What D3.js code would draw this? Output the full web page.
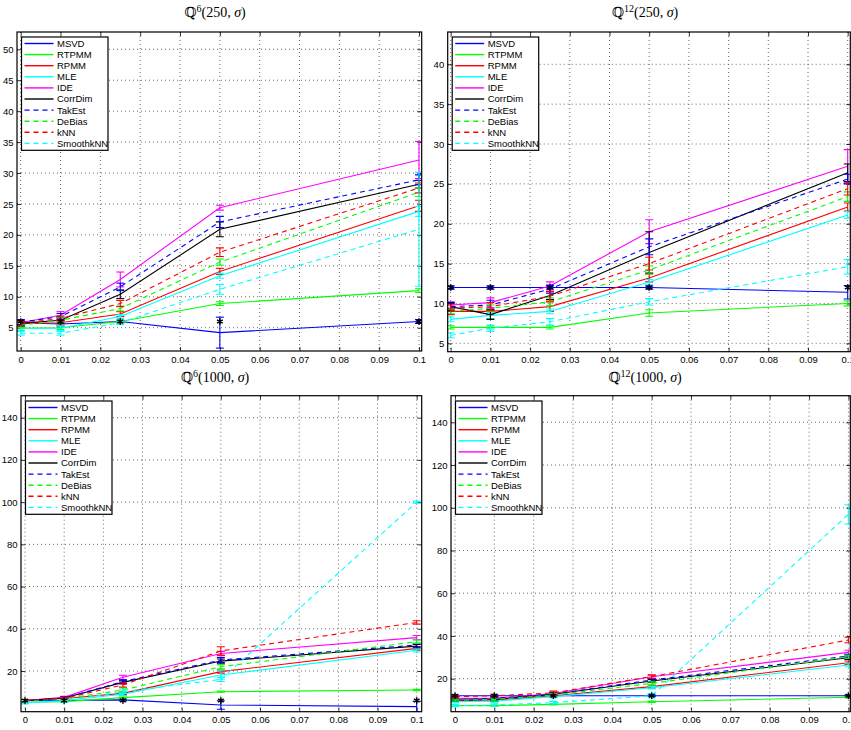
<!DOCTYPE html>
<html>
<head>
<meta charset="utf-8">
<script src="https://cdn.jsdelivr.net/npm/d3@7"></script>
<style>
  html, body { margin: 0; padding: 0; background: #fff; }
  svg { display: block; }
</style>
</head>
<body>
<svg id="chart" width="851" height="730"></svg>
<script>
// ---------------- DATA ----------------
const sigmas = [0, 0.01, 0.025, 0.05, 0.1];
const xTickValues = [0, 0.01, 0.02, 0.03, 0.04, 0.05, 0.06, 0.07, 0.08, 0.09, 0.1];
const xTickLabels = ["0", "0.01", "0.02", "0.03", "0.04", "0.05", "0.06", "0.07", "0.08", "0.09", "0.1"];
const methods = ["MSVD", "RTPMM", "RPMM", "MLE", "IDE", "CorrDim", "TakEst", "DeBias", "kNN", "SmoothkNN"];

// Q^6(250, sigma): mean estimates per method (rows follow `methods`)
const q6n250 = [
  [5.8, 5.6, 6.0, 4.2, 6.0],
  [4.9, 5.0, 6.0, 8.9, 11.0],
  [5.7, 5.8, 7.2, 14.1, 24.7],
  [4.9, 4.9, 6.8, 13.4, 23.8],
  [5.8, 7.0, 12.8, 24.4, 32.1],
  [5.7, 6.2, 10.4, 20.9, 28.2],
  [5.9, 6.8, 11.6, 22.1, 28.9],
  [5.4, 6.2, 8.1, 15.6, 26.9],
  [5.7, 6.5, 8.9, 17.2, 27.6],
  [4.1, 4.1, 5.8, 11.2, 20.9]
];
const q6n250Err = [
  [0.5, 0.5, 0.2, 2.5, 0.3],
  [0.3, 0.3, 0.2, 0.3, 0.3],
  [0.4, 0.4, 0.4, 0.5, 0.9],
  [0.4, 0.4, 0.3, 0.4, 0.8],
  [0.5, 0.6, 1.2, 0.4, 3.0],
  [0.4, 0.5, 0.7, 1.2, 0.6],
  [0.4, 0.5, 0.6, 0.9, 0.8],
  [0.4, 0.4, 0.4, 0.5, 0.7],
  [0.4, 0.4, 0.5, 0.7, 0.8],
  [0.3, 0.3, 0.3, 0.8, 9.2]
];

// Q^12(250, sigma)
const q12n250 = [
  [12.0, 12.0, 12.0, 12.0, 11.4],
  [7.0, 7.0, 7.0, 8.8, 10.0],
  [9.0, 9.0, 9.6, 13.2, 22.1],
  [8.0, 8.5, 9.0, 12.7, 21.1],
  [9.8, 10.1, 12.2, 19.0, 27.2],
  [9.6, 8.6, 11.0, 16.4, 26.4],
  [9.6, 9.8, 11.8, 17.1, 25.6],
  [9.0, 9.4, 10.2, 14.2, 23.4],
  [9.4, 9.6, 10.9, 15.0, 24.4],
  [6.0, 6.9, 7.7, 10.2, 14.6]
];
const q12n250Err = [
  [0.2, 0.2, 0.2, 0.2, 0.85],
  [0.2, 0.2, 0.2, 0.4, 0.3],
  [0.4, 0.4, 0.6, 0.5, 0.5],
  [0.3, 0.4, 0.3, 0.3, 0.4],
  [0.4, 0.6, 0.5, 1.5, 2.1],
  [0.5, 0.6, 0.5, 2.6, 1.1],
  [0.4, 0.6, 0.5, 1.0, 0.6],
  [0.3, 0.4, 0.5, 0.5, 0.6],
  [0.4, 0.5, 0.6, 0.8, 0.8],
  [0.3, 0.4, 0.4, 0.4, 0.9]
];

// Q^6(1000, sigma)
const q6n1000 = [
  [6.0, 6.0, 6.3, 3.9, 3.1],
  [5.2, 5.5, 7.4, 10.2, 11.0],
  [6.0, 7.0, 9.4, 19.7, 30.7],
  [5.0, 6.0, 9.0, 18.1, 29.8],
  [6.0, 7.5, 17.0, 28.3, 35.8],
  [6.0, 7.2, 14.6, 24.7, 31.8],
  [6.0, 7.2, 15.0, 25.2, 32.3],
  [5.8, 6.8, 11.0, 22.0, 33.9],
  [6.0, 7.0, 13.4, 29.5, 43.0],
  [5.0, 5.8, 10.2, 16.0, 100.0]
];
const q6n1000Err = [
  [0.5, 0.5, 0.5, 2.0, 2.5],
  [0.3, 0.3, 0.3, 0.3, 0.3],
  [0.5, 0.5, 0.6, 0.7, 0.8],
  [0.5, 0.5, 0.6, 2.0, 0.8],
  [0.5, 0.5, 1.0, 1.0, 1.0],
  [0.5, 0.5, 0.7, 1.0, 0.8],
  [0.5, 0.5, 0.8, 1.2, 0.8],
  [0.5, 0.5, 1.0, 1.0, 0.8],
  [0.5, 0.5, 1.0, 2.0, 0.8],
  [0.5, 0.5, 0.8, 1.0, 0.5]
];

// Q^12(1000, sigma)
const q12n1000 = [
  [12.0, 12.0, 12.0, 12.0, 12.0],
  [7.4, 7.4, 8.0, 9.2, 11.3],
  [9.7, 10.0, 12.0, 16.3, 27.5],
  [9.2, 9.5, 11.6, 15.8, 26.4],
  [10.8, 10.8, 13.1, 20.9, 32.3],
  [10.0, 10.3, 12.7, 18.9, 29.8],
  [10.2, 10.8, 12.8, 19.4, 30.6],
  [10.0, 10.3, 12.4, 17.8, 30.3],
  [11.6, 12.0, 13.4, 21.0, 38.1],
  [7.4, 7.7, 8.8, 12.0, 96.9]
];
const q12n1000Err = [
  [0.3, 0.3, 0.3, 0.3, 0.3],
  [0.3, 0.3, 0.3, 0.3, 0.3],
  [0.5, 0.5, 0.6, 0.6, 0.8],
  [0.5, 0.5, 0.6, 0.6, 0.8],
  [0.5, 0.6, 0.6, 0.7, 1.0],
  [0.5, 0.6, 0.6, 0.7, 0.8],
  [0.5, 0.6, 0.6, 0.7, 0.8],
  [0.5, 0.6, 0.6, 0.7, 0.8],
  [0.6, 0.7, 0.8, 0.8, 1.3],
  [0.5, 0.6, 0.6, 1.0, 4.5]
];

// true intrinsic dimension (black asterisks)
const trueDim6 = [6, 6, 6, 6, 6];
const trueDim12 = [12, 12, 12, 12, 12];

const yTicks6n250 = [5, 10, 15, 20, 25, 30, 35, 40, 45, 50];
const yTicks12n250 = [5, 10, 15, 20, 25, 30, 35, 40];
const yTicksN1000 = [20, 40, 60, 80, 100, 120, 140];

// ---------------- STYLES / LAYOUT ----------------
const seriesStyle = [
  { color: "#0000ff", dash: null },
  { color: "#00ff00", dash: null },
  { color: "#ff0000", dash: null },
  { color: "#00ffff", dash: null },
  { color: "#ff00ff", dash: null },
  { color: "#000000", dash: null },
  { color: "#0000ff", dash: "5,4" },
  { color: "#00ff00", dash: "5,4" },
  { color: "#ff0000", dash: "5,4" },
  { color: "#00ffff", dash: "5,4" }
];

const panels = [
  { sup: "6", n: "250", means: q6n250, errs: q6n250Err, truth: trueDim6, yTicks: yTicks6n250,
    box: [17, 32, 421.7, 351], xPix: [20.7, 419], yVal: [5, 50], yPix: [327.7, 49.3],
    titleX: 215, titleY: 17 },
  { sup: "12", n: "250", means: q12n250, errs: q12n250Err, truth: trueDim12, yTicks: yTicks12n250,
    box: [447.7, 32, 850.3, 351.7], xPix: [450.7, 847.7], yVal: [5, 40], yPix: [343.3, 64.3],
    titleX: 645, titleY: 17 },
  { sup: "6", n: "1000", means: q6n1000, errs: q6n1000Err, truth: trueDim6, yTicks: yTicksN1000,
    box: [21, 395.7, 421.7, 711.7], xPix: [25, 416.7], yVal: [20, 140], yPix: [671, 417.7],
    titleX: 215, titleY: 382 },
  { sup: "12", n: "1000", means: q12n1000, errs: q12n1000Err, truth: trueDim12, yTicks: yTicksN1000,
    box: [451, 395.7, 850.3, 711.7], xPix: [455, 848.4], yVal: [20, 140], yPix: [678.7, 422.3],
    titleX: 645, titleY: 382 }
];

const svg = d3.select("#chart");
const sansFont = "'Liberation Sans', Arial, Helvetica, sans-serif";
const serifFont = "'Liberation Serif', 'DejaVu Serif', 'Times New Roman', serif";

panels.forEach((p, pi) => {
  const [bx0, by0, bx1, by1] = p.box;
  const x = d3.scaleLinear().domain([0, 0.1]).range(p.xPix);
  const y = d3.scaleLinear().domain(p.yVal).range(p.yPix);

  const g = svg.append("g");

  const clipId = "clip" + pi;
  svg.append("clipPath").attr("id", clipId)
    .append("rect").attr("x", bx0).attr("y", by0).attr("width", bx1 - bx0).attr("height", by1 - by0);

  // grid
  const grid = g.append("g").attr("clip-path", `url(#${clipId})`);
  grid.selectAll(".gx").data(xTickValues).join("line")
    .attr("x1", d => x(d)).attr("x2", d => x(d)).attr("y1", by0).attr("y2", by1)
    .attr("stroke", "#444").attr("stroke-width", 0.8).attr("stroke-dasharray", "1,3");
  grid.selectAll(".gy").data(p.yTicks).join("line")
    .attr("x1", bx0).attr("x2", bx1).attr("y1", d => y(d)).attr("y2", d => y(d))
    .attr("stroke", "#444").attr("stroke-width", 0.8).attr("stroke-dasharray", "1,3");

  // axes (ticks inside)
  const xAxis = d3.axisBottom(x).tickValues(xTickValues).tickFormat((d, i) => xTickLabels[i])
    .tickSizeInner(-4).tickSizeOuter(0).tickPadding(5);
  const gx = g.append("g").attr("transform", `translate(0,${by1})`).call(xAxis);
  const yAxis = d3.axisLeft(y).tickValues(p.yTicks).tickFormat(d3.format("d"))
    .tickSizeInner(-4).tickSizeOuter(0).tickPadding(3.5);
  const gy = g.append("g").attr("transform", `translate(${bx0},0)`).call(yAxis);
  const xAxisTop = d3.axisTop(x).tickValues(xTickValues).tickFormat("").tickSizeInner(-4).tickSizeOuter(0);
  const gxt = g.append("g").attr("transform", `translate(0,${by0})`).call(xAxisTop);
  const yAxisR = d3.axisRight(y).tickValues(p.yTicks).tickFormat("").tickSizeInner(-4).tickSizeOuter(0);
  const gyr = g.append("g").attr("transform", `translate(${bx1},0)`).call(yAxisR);
  [gx, gy, gxt, gyr].forEach(a => {
    a.select(".domain").remove();
    a.selectAll(".tick line").attr("stroke", "#000").attr("stroke-width", 0.8);
    a.selectAll(".tick text").attr("font-size", 9.5).attr("font-family", sansFont).attr("fill", "#000");
  });
  gy.selectAll(".tick").filter(d => y(d) < by0 || y(d) > by1).remove();
  gyr.selectAll(".tick").filter(d => y(d) < by0 || y(d) > by1).remove();

  // series
  const plot = g.append("g").attr("clip-path", `url(#${clipId})`);
  const line = d3.line().x((d, i) => x(sigmas[i])).y(d => y(d));
  p.means.forEach((vals, si) => {
    const st = seriesStyle[si];
    plot.append("path").datum(vals).attr("d", line)
      .attr("fill", "none").attr("stroke", st.color).attr("stroke-width", 1.1)
      .attr("stroke-dasharray", st.dash);
    const eb = plot.append("g").attr("stroke", st.color).attr("stroke-width", 1.1);
    vals.forEach((v, i) => {
      const e = p.errs[si][i];
      const cx = x(sigmas[i]);
      const ylo = y(v - e), yhi = y(v + e);
      eb.append("line").attr("x1", cx).attr("x2", cx).attr("y1", ylo).attr("y2", yhi);
      eb.append("line").attr("x1", cx - 4).attr("x2", cx + 4).attr("y1", ylo).attr("y2", ylo);
      eb.append("line").attr("x1", cx - 4).attr("x2", cx + 4).attr("y1", yhi).attr("y2", yhi);
    });
  });

  // true dimension asterisks
  const sym = d3.symbol().type(d3.symbolAsterisk || d3.symbolCross).size(30);
  plot.selectAll(".star").data(p.truth).join("path")
    .attr("d", sym)
    .attr("transform", (d, i) => `translate(${x(sigmas[i])},${y(d)})`)
    .attr("fill", "none").attr("stroke", "#000").attr("stroke-width", 1.5);

  // box
  g.append("rect").attr("x", bx0).attr("y", by0).attr("width", bx1 - bx0).attr("height", by1 - by0)
    .attr("fill", "none").attr("stroke", "#000").attr("stroke-width", 1.2);

  // legend
  const lx = bx0 + 4.5, ly = Math.round(by0 + 5);
  const lg = g.append("g").attr("transform", `translate(${lx},${ly})`);
  lg.append("rect").attr("x", 0).attr("y", 0).attr("width", 86.5).attr("height", 113.3)
    .attr("fill", "#fff").attr("stroke", "#000").attr("stroke-width", 1.2);
  methods.forEach((m, si) => {
    const st = seriesStyle[si];
    const yy = 6.5 + si * 11.1;
    lg.append("line").attr("x1", 3).attr("x2", 32).attr("y1", yy).attr("y2", yy)
      .attr("stroke", st.color).attr("stroke-width", 1.4).attr("stroke-dasharray", st.dash);
    lg.append("text").attr("x", 35.5).attr("y", yy + 3.4).text(m)
      .attr("font-family", sansFont).attr("font-size", 9.5).attr("fill", "#000");
  });

  // title
  const t = svg.append("text").attr("x", p.titleX).attr("y", p.titleY)
    .attr("text-anchor", "middle").attr("font-family", serifFont).attr("font-size", 14).attr("fill", "#000");
  t.append("tspan").text("\u211A");
  t.append("tspan").attr("dy", -5.5).attr("font-size", 10).text(p.sup);
  t.append("tspan").attr("dy", 5.5).text("(" + p.n + ", ");
  t.append("tspan").attr("font-style", "italic").text("\u03C3");
  t.append("tspan").text(")");
});
</script>
</body>
</html>
